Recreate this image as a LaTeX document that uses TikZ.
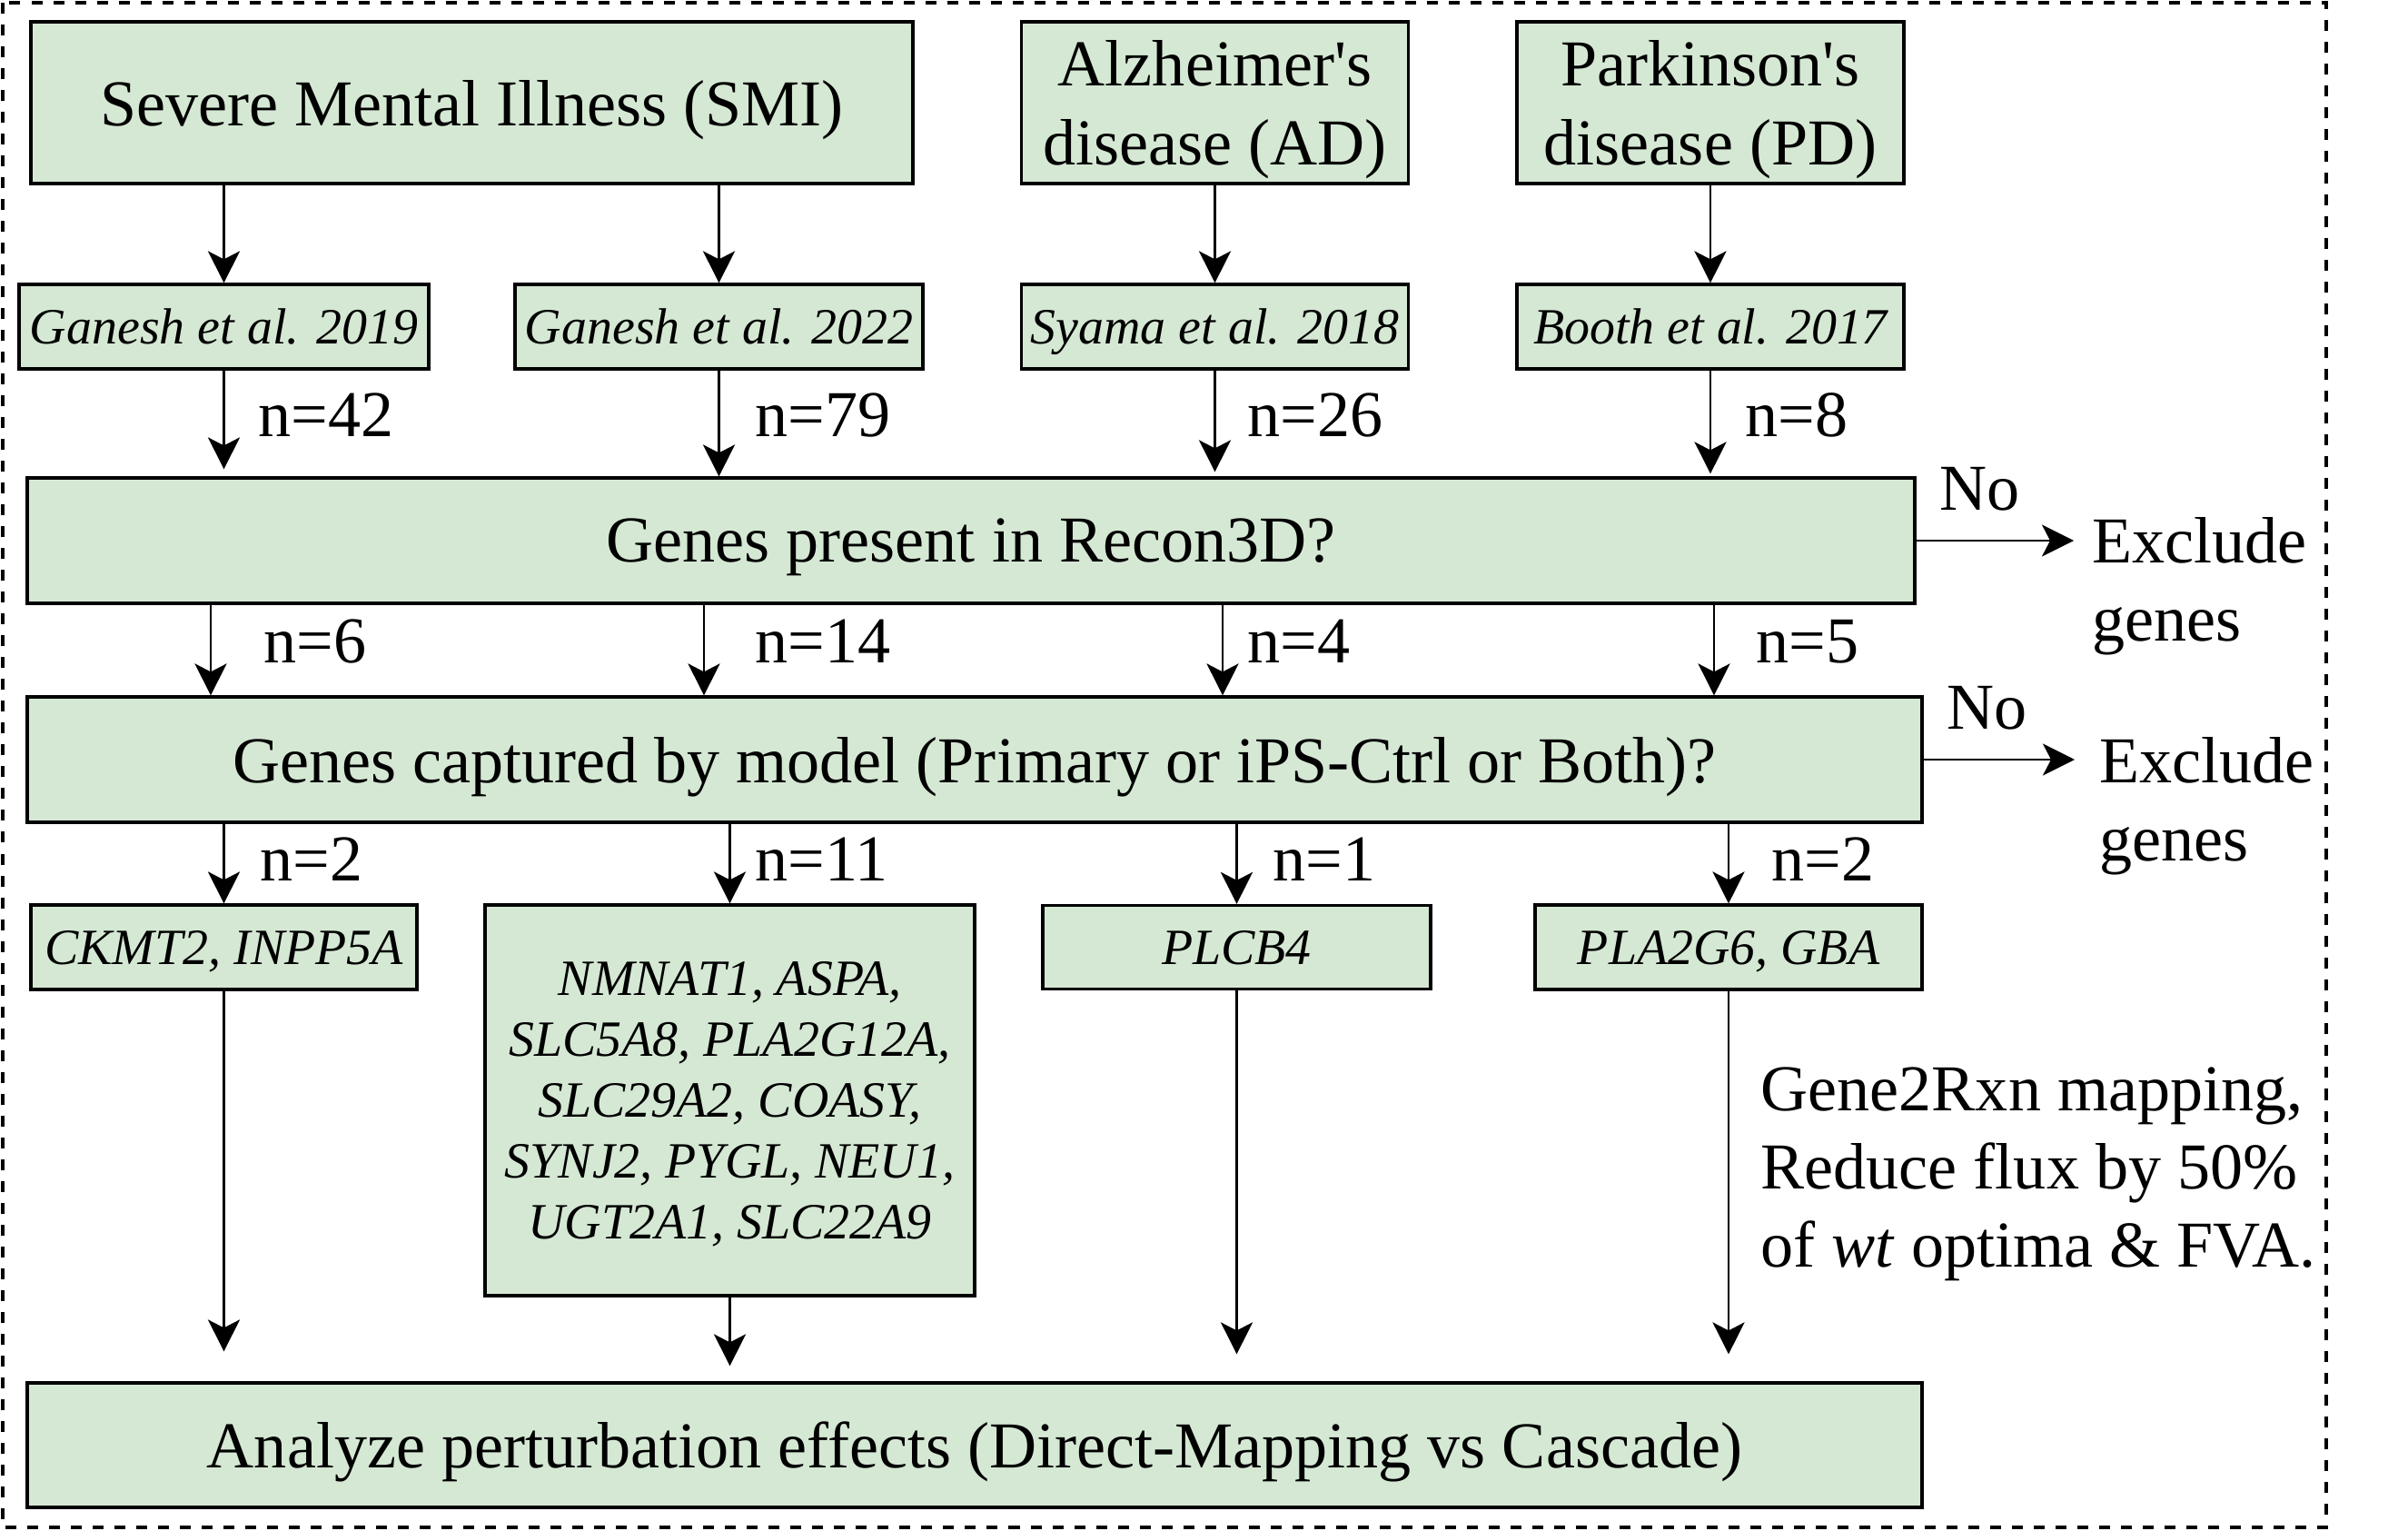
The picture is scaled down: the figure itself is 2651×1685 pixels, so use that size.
\documentclass[tikz,border=0pt]{standalone}
\usepackage{fontspec}
\setmainfont{Liberation Serif}
\usetikzlibrary{arrows.meta}

\definecolor{boxgreen}{HTML}{D5E8D4}
\newcommand{\bigtxt}{\fontsize{20.5}{24.5}\selectfont}
\newcommand{\smtxt}{\fontsize{15.9}{19.1}\selectfont}

\begin{document}
\begin{tikzpicture}[x=0.01cm,y=-0.01cm,
  box/.style={draw=black,line width=0.9pt,fill=boxgreen,inner sep=0pt,align=center,text depth=0pt},
  bigbox/.style={box,font=\bigtxt},
  refbox/.style={box,font=\smtxt\itshape},
  wh/.style 2 args={minimum width=#1*0.01cm,minimum height=#2*0.01cm},
  lbl/.style={inner sep=0pt,anchor=base west,font=\bigtxt},
  note/.style={inner sep=0pt,anchor=west,align=left,font=\bigtxt},
  arr/.style={-{Stealth[length=0.35cm,width=0.35cm,inset=0.09cm]},line width=0.75pt}]
\useasboundingbox (0,0) rectangle (2651,1685);
\draw [line width=0.9pt,dash pattern=on 0.12cm off 0.12cm] (3,3) rectangle (2561,1681);

\node [bigbox,wh={971}{178}] (smi) at (519.5,113) {Severe Mental Illness (SMI)};
\node [bigbox,wh={426}{178}] (ad) at (1337.5,113) {Alzheimer\textquotesingle s\\disease (AD)};
\node [bigbox,wh={426}{178}] (pd) at (1883,113) {Parkinson\textquotesingle s\\disease (PD)};
\node [refbox,wh={451}{93}] (g19) at (246.5,359.5) {Ganesh et al. 2019};
\node [refbox,wh={449}{93}] (g22) at (791.5,359.5) {Ganesh et al. 2022};
\node [refbox,wh={426}{93}] (sy18) at (1337.5,359.5) {Syama et al. 2018};
\node [refbox,wh={426}{93}] (bo17) at (1883,359.5) {Booth et al. 2017};
\node [bigbox,wh={2078}{138}] (recon) at (1069,595) {Genes present in Recon3D?};
\node [bigbox,wh={2086}{138}] (capt) at (1073,836) {Genes captured by model (Primary or iPS-Ctrl or Both)?};
\node [refbox,wh={425}{93}] (ckmt) at (246.5,1042.5) {CKMT2, INPP5A};
\node [refbox,wh={539}{430}] (nmnat) at (803.5,1211) {NMNAT1, ASPA,\\SLC5A8, PLA2G12A,\\SLC29A2, COASY,\\SYNJ2, PYGL, NEU1,\\UGT2A1, SLC22A9};
\node [refbox,wh={427}{92}] (plcb) at (1361.5,1042.5) {PLCB4};
\node [refbox,wh={426}{93}] (pla) at (1903,1042.5) {PLA2G6, GBA};
\node [bigbox,wh={2086}{137}] (anl) at (1073,1590.5) {Analyze perturbation effects (Direct-Mapping vs Cascade)};

\node [note] (exc1) at (2303,645) {Exclude\\genes};
\node [note] (exc2) at (2311,887) {Exclude\\genes};
\node [lbl] (no1) at (2135,561) {No};
\node [lbl] (no2) at (2143,802) {No};
\node [note] (g2r) at (1938,1292) {Gene2Rxn mapping,\\Reduce flux by 50\%\\of \textit{wt} optima \& FVA.};

\node [lbl] (n42) at (284,480) {n=42};
\node [lbl] (n79) at (831,480) {n=79};
\node [lbl] (n26) at (1373,480) {n=26};
\node [lbl] (n8) at (1921,480) {n=8};
\node [lbl] (n6) at (290,729) {n=6};
\node [lbl] (n14) at (831,729) {n=14};
\node [lbl] (n4) at (1373,729) {n=4};
\node [lbl] (n5) at (1933,729) {n=5};
\node [lbl] (n2a) at (286,969) {n=2};
\node [lbl] (n11) at (831,969) {n=11};
\node [lbl] (n1) at (1401,969) {n=1};
\node [lbl] (n2b) at (1950,969) {n=2};

\coordinate (c1) at (232,0);
\coordinate (c2) at (775,0);
\coordinate (c3) at (1346,0);
\coordinate (c4) at (1887,0);

\draw [arr] (smi.south -| g19.north) -- (g19.north);
\draw [arr] (smi.south -| g22.north) -- (g22.north);
\draw [arr] (ad.south) -- (sy18.north);
\draw [arr] (pd.south) -- (bo17.north);
\draw [arr,shorten >=0.08cm] (g19.south) -- (g19.south |- recon.north);
\draw [arr] (g22.south) -- (g22.south |- recon.north);
\draw [arr,shorten >=0.05cm] (sy18.south) -- (sy18.south |- recon.north);
\draw [arr,shorten >=0.03cm] (bo17.south) -- (bo17.south |- recon.north);
\draw [arr] (recon.south -| c1) -- (capt.north -| c1);
\draw [arr] (recon.south -| c2) -- (capt.north -| c2);
\draw [arr] (recon.south -| c3) -- (capt.north -| c3);
\draw [arr] (recon.south -| c4) -- (capt.north -| c4);
\draw [arr] (capt.south -| ckmt.north) -- (ckmt.north);
\draw [arr] (capt.south -| nmnat.north) -- (nmnat.north);
\draw [arr] (capt.south -| plcb.north) -- (plcb.north);
\draw [arr] (capt.south -| pla.north) -- (pla.north);
\draw [arr,shorten >=0.33cm] (ckmt.south) -- (ckmt.south |- anl.north);
\draw [arr,shorten >=0.17cm] (nmnat.south) -- (nmnat.south |- anl.north);
\draw [arr,shorten >=0.30cm] (plcb.south) -- (plcb.south |- anl.north);
\draw [arr,shorten >=0.30cm] (pla.south) -- (pla.south |- anl.north);
\draw [arr,shorten >=0.2cm] (recon.east) -- (recon.east -| exc1.west);
\draw [arr,shorten >=0.27cm] (capt.east) -- (capt.east -| exc2.west);
\end{tikzpicture}
\end{document}
